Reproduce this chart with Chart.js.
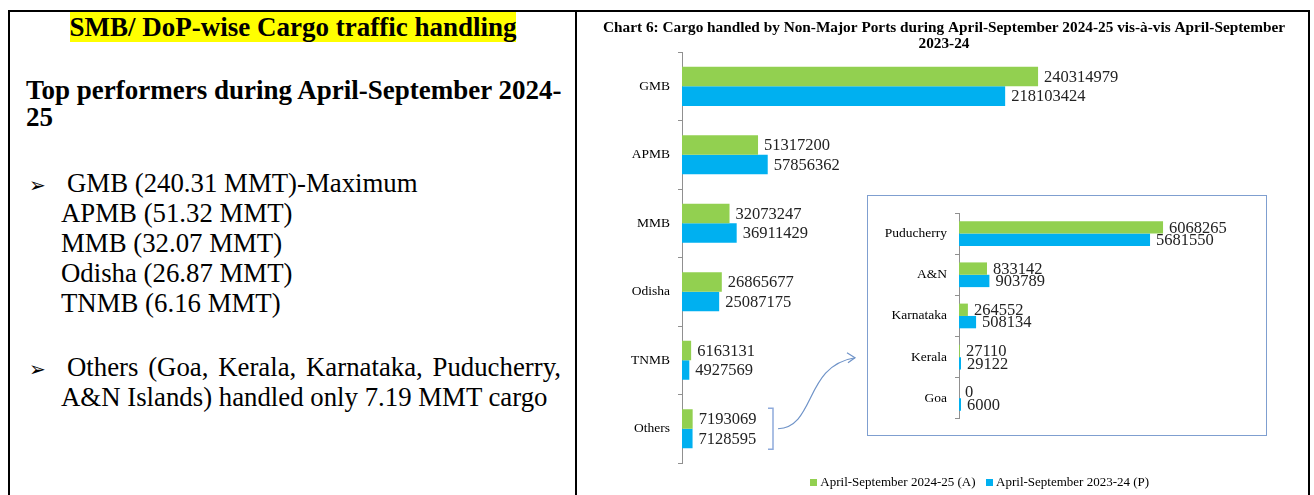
<!DOCTYPE html>
<html><head><meta charset="utf-8">
<script src="https://cdn.jsdelivr.net/npm/chart.js@4/dist/chart.umd.min.js"></script>
<style>
html,body{margin:0;padding:0;background:#fff;width:1314px;height:495px;overflow:hidden;position:relative;}
#frame{position:absolute;left:8px;top:10px;width:1302px;height:500px;border:2px solid #000;border-bottom:none;box-sizing:border-box;}
#divider{position:absolute;left:575px;top:10px;width:2px;height:490px;background:#000;}
.t{position:absolute;font-family:"Liberation Serif","Times New Roman",serif;font-size:26.8px;line-height:30px;color:#000;white-space:nowrap;}
.b{font-weight:bold;font-size:27px;}
.hl{background:#ffff00;}
.bul{font-family:"DejaVu Sans",sans-serif;font-size:20px;font-weight:bold;}
#mainC{position:absolute;left:580px;top:12px;}
#insetBox{position:absolute;left:867px;top:195px;width:400px;height:241px;border:1px solid #7f9fd0;box-sizing:border-box;background:#fff;}
#insetC{position:absolute;left:0;top:0;}
</style>
</head><body>
<div id="frame"></div>
<div id="divider"></div>

<div class="t b" style="left:10px;top:12px;width:566px;text-align:center;"><span class="hl">SMB/ DoP-wise Cargo traffic handling</span></div>
<div class="t b" style="left:26px;top:75px;">Top performers during April-September 2024-</div>
<div class="t b" style="left:26px;top:102px;">25</div>

<div class="t" style="left:29px;top:168px;"><span class="bul">➢</span></div>
<div class="t" style="left:67px;top:168px;">GMB (240.31 MMT)-Maximum</div>
<div class="t" style="left:61px;top:198px;">APMB (51.32 MMT)</div>
<div class="t" style="left:61px;top:228px;">MMB (32.07 MMT)</div>
<div class="t" style="left:61px;top:258px;">Odisha (26.87 MMT)</div>
<div class="t" style="left:61px;top:288px;">TNMB (6.16 MMT)</div>

<div class="t" style="left:29px;top:352px;"><span class="bul">➢</span></div>
<div class="t" style="left:67px;top:352px;width:494px;text-align:justify;text-align-last:justify;white-space:normal;">Others (Goa, Kerala, Karnataka, Puducherry,</div>
<div class="t" style="left:61px;top:382px;">A&amp;N Islands) handled only 7.19 MMT cargo</div>

<canvas id="mainC" width="728" height="487"></canvas>
<div id="insetBox"><canvas id="insetC" width="398" height="239"></canvas></div>

<script>
// ---- data ----
const mainCategories = ['GMB', 'APMB', 'MMB', 'Odisha', 'TNMB', 'Others'];
const mainCurrent = [240314979, 51317200, 32073247, 26865677, 6163131, 7193069];
const mainPrevious = [218103424, 57856362, 36911429, 25087175, 4927569, 7128595];
const insetCategories = ['Puducherry', 'A&N', 'Karnataka', 'Kerala', 'Goa'];
const insetCurrent = [6068265, 833142, 264552, 27110, 0];
const insetPrevious = [5681550, 903789, 508134, 29122, 6000];
const seriesNames = ['April-September 2024-25 (A)', 'April-September 2023-24 (P)'];
const chartTitle = ['Chart 6: Cargo handled by Non-Major Ports during April-September 2024-25 vis-à-vis April-September', '2023-24'];

const SERIF = '"Liberation Serif", "Times New Roman", serif';
const GREEN = '#92D050', BLUE = '#00B0F0';

function swatch(color) {
  const c = document.createElement('canvas');
  c.width = 7; c.height = 7;
  const x = c.getContext('2d');
  x.fillStyle = color; x.fillRect(0, 0, 7, 7);
  return c;
}
const swatches = [swatch(GREEN), swatch(BLUE)];

const valueLabels = {
  id: 'valueLabels',
  afterDatasetsDraw(chart, args, opts) {
    const ctx = chart.ctx;
    ctx.save();
    ctx.font = opts.font;
    ctx.fillStyle = opts.color;
    ctx.textBaseline = 'middle';
    ctx.textAlign = 'left';
    chart.data.datasets.forEach((ds, i) => {
      chart.getDatasetMeta(i).data.forEach((bar, j) => {
        ctx.fillText(String(ds.data[j]), Math.max(bar.x, bar.base) + opts.offset, bar.y + 1);
      });
    });
    ctx.restore();
  }
};

const legendShift = {
  id: 'legendShift',
  afterLayout(chart, args, opts) {
    if (chart.legend) { chart.legend.left += opts.dx; chart.legend.right += opts.dx; }
  }
};

const bracketArrow = {
  id: 'bracketArrow',
  afterDraw(chart) {
    const ctx = chart.ctx;
    const g = chart.getDatasetMeta(0).data[5];
    const b = chart.getDatasetMeta(1).data[5];
    const top = g.y - g.height / 2 - 1;
    const bot = b.y + b.height / 2 + 1;
    const bx = chart.chartArea.left + 91;
    ctx.save();
    ctx.strokeStyle = '#8eaadb';
    ctx.lineWidth = 1.5;
    ctx.beginPath();
    ctx.moveTo(bx - 5, top); ctx.lineTo(bx, top); ctx.lineTo(bx, bot); ctx.lineTo(bx - 5, bot);
    ctx.stroke();
    const sx = bx + 5, sy = (top + bot) / 2;
    const ex = sx + 77, ey = sy - 71;
    ctx.strokeStyle = '#6f93c8';
    ctx.lineWidth = 1.2;
    ctx.beginPath();
    ctx.moveTo(sx, sy);
    ctx.bezierCurveTo(sx + 38, sy - 2, sx + 26, ey + 8, ex, ey);
    ctx.stroke();
    ctx.beginPath();
    ctx.moveTo(ex - 8, ey - 5); ctx.lineTo(ex, ey); ctx.lineTo(ex - 7, ey + 5);
    ctx.stroke();
    ctx.restore();
  }
};

new Chart(document.getElementById('mainC'), {
  type: 'bar',
  data: {
    labels: mainCategories,
    datasets: [
      { label: seriesNames[0], data: mainCurrent, backgroundColor: GREEN, categoryPercentage: 0.57, barPercentage: 1 },
      { label: seriesNames[1], data: mainPrevious, backgroundColor: BLUE, categoryPercentage: 0.57, barPercentage: 1 }
    ]
  },
  options: {
    indexAxis: 'y', responsive: false, animation: false, devicePixelRatio: 1,
    layout: { padding: { left: 0, right: 0, top: 0, bottom: 0 } },
    plugins: {
      title: { display: true, text: chartTitle, color: '#000', font: { family: SERIF, size: 15.3, weight: 'bold', lineHeight: 1.05 }, padding: { top: 8, bottom: 0 } },
      legend: {
        position: 'bottom', fullSize: false,
        labels: {
          usePointStyle: true, pointStyleWidth: 1, boxHeight: 7, color: '#000',
          font: { family: SERIF, size: 13 }, padding: 13,
          generateLabels(chart) {
            const items = Chart.defaults.plugins.legend.labels.generateLabels(chart);
            items.forEach((it, i) => { it.pointStyle = swatches[i]; });
            return items;
          }
        }
      },
      legendShift: { dx: -14 },
      tooltip: { enabled: false },
      valueLabels: { font: '16.5px "Liberation Serif"', color: '#222', offset: 6 }
    },
    scales: {
      x: { display: false, min: 0, max: 422500000 },
      y: {
        afterFit(s) { s.width = 102; },
        border: { display: true, color: '#909090', width: 1 },
        grid: { display: true, drawOnChartArea: false, drawTicks: true, tickLength: 4, color: '#909090', offset: true },
        ticks: { color: '#000', font: { family: SERIF, size: 13.5 }, padding: 8 }
      }
    }
  },
  plugins: [valueLabels, bracketArrow, legendShift]
});

new Chart(document.getElementById('insetC'), {
  type: 'bar',
  data: {
    labels: insetCategories,
    datasets: [
      { label: seriesNames[0], data: insetCurrent, backgroundColor: GREEN, categoryPercentage: 0.6, barPercentage: 1 },
      { label: seriesNames[1], data: insetPrevious, backgroundColor: BLUE, categoryPercentage: 0.6, barPercentage: 1, minBarLength: 2 }
    ]
  },
  options: {
    indexAxis: 'y', responsive: false, animation: false, devicePixelRatio: 1,
    layout: { padding: { left: 0, right: 0, top: 17, bottom: 10 } },
    plugins: {
      title: { display: false },
      legend: { display: false },
      tooltip: { enabled: false },
      valueLabels: { font: '16.5px "Liberation Serif"', color: '#222', offset: 6 }
    },
    scales: {
      x: { display: false, min: 0, max: 9130000 },
      y: {
        afterFit(s) { s.width = 91; },
        border: { display: true, color: '#909090', width: 1 },
        grid: { display: true, drawOnChartArea: false, drawTicks: true, tickLength: 4, color: '#909090', offset: true },
        ticks: { color: '#000', font: { family: SERIF, size: 13.5 }, padding: 8 }
      }
    }
  },
  plugins: [valueLabels]
});
</script>
</body></html>
